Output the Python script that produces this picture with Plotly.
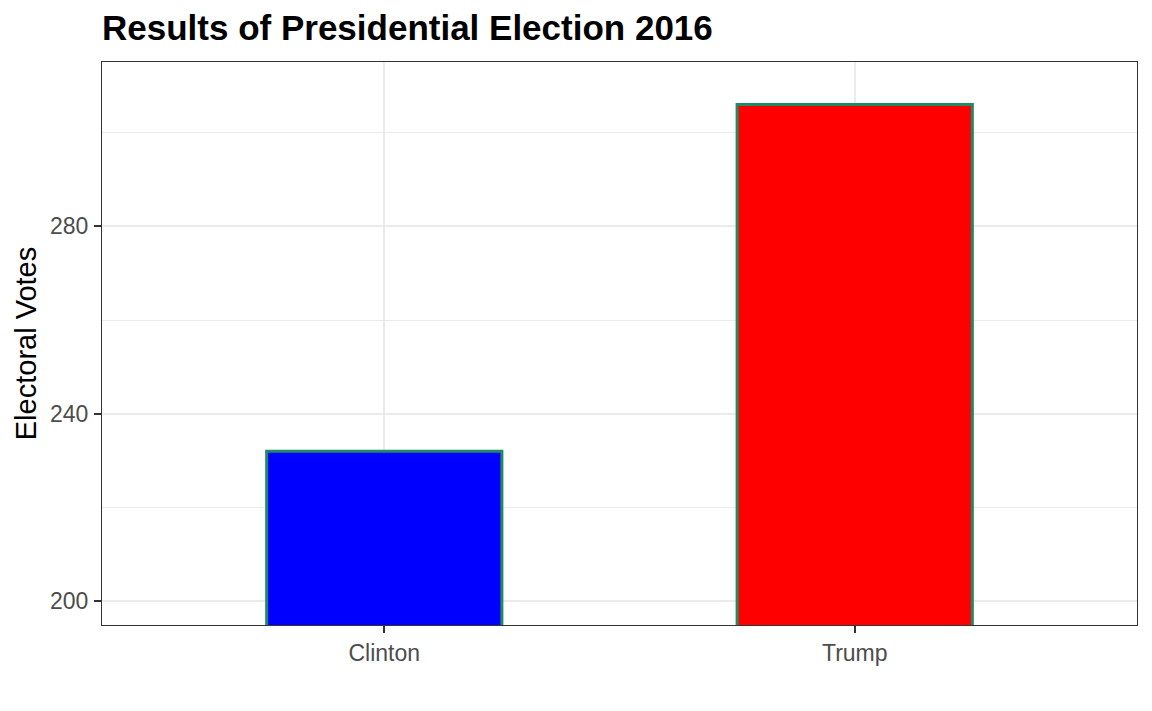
import plotly.graph_objects as go

# electoral votes per candidate
candidates = ["Clinton", "Trump"]
votes = [232, 306]
bar_colors = ["#0000FF", "#FF0000"]

fig = go.Figure()

fig.add_trace(go.Bar(
    x=candidates,
    y=votes,
    width=0.5,
    marker=dict(color=bar_colors, line=dict(color="#1F8A63", width=3)),
    showlegend=False,
))

# page body adds ~8px offset, so margins are shifted to compensate
fig.update_layout(
    width=1152,
    height=711,
    paper_bgcolor="white",
    plot_bgcolor="white",
    font=dict(family="Liberation Sans, Arial, sans-serif", color="#000000"),
    margin=dict(l=94, r=23, t=54, b=94),
    title=dict(
        text="<b>Results of Presidential Election 2016</b>",
        font=dict(size=35, color="black"),
        xref="container", x=94 / 1152, xanchor="left",
        yref="container", y=1 - 20 / 711, yanchor="middle",
    ),
)

fig.update_xaxes(
    type="category",
    range=[-0.6, 1.6],
    showgrid=True, gridcolor="#EBEBEB", gridwidth=2,
    showline=True, linecolor="#333333", linewidth=1, mirror=True,
    ticks="outside", ticklen=7, tickcolor="#333333", tickwidth=2,
    tickfont=dict(size=23, color="#4D4D4D"),
    zeroline=False,
)

fig.update_yaxes(
    range=[194.9, 315.1],
    tick0=200, dtick=40,
    showgrid=True, gridcolor="#EBEBEB", gridwidth=2,
    minor=dict(dtick=20, showgrid=True, gridcolor="#EBEBEB", gridwidth=1),
    showline=True, linecolor="#333333", linewidth=1, mirror=True,
    ticks="outside", ticklen=7, tickcolor="#333333", tickwidth=2,
    tickfont=dict(size=23, color="#4D4D4D"),
    ticklabelstandoff=1,
    zeroline=False,
    title=dict(text="Electoral Votes", font=dict(size=29, color="black"), standoff=4),
)

fig.write_html("out.html")
